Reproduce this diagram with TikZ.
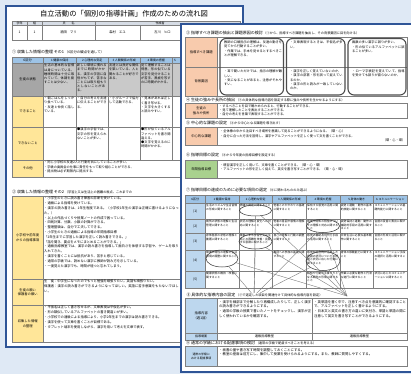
\documentclass[tikz,border=0pt]{standalone}
\usepackage{fontspec}
\setmainfont{Noto Sans CJK JP}
\XeTeXlinebreaklocale "ja"
\XeTeXlinebreakskip=0pt plus 1pt
\usetikzlibrary{positioning}
\usetikzlibrary{shapes.geometric}

\definecolor{bgblue}{HTML}{DFE9F5}
\definecolor{pageblue}{HTML}{2F5597}
\definecolor{hdblue}{HTML}{9DC3E6}
\definecolor{lblue}{HTML}{BDD7EE}
\definecolor{cellgray}{HTML}{C9C9C9}
\definecolor{labgray}{HTML}{A6A6A6}
\definecolor{labyel}{HTML}{FFE699}
\definecolor{laborange}{HTML}{F8CBAD}
\definecolor{labgreen}{HTML}{A9D18E}
\definecolor{linegray}{HTML}{7F7F7F}
\definecolor{hdrgray}{HTML}{D6DCE5}

\tikzset{
  sheet/.style={draw=pageblue, line width=2pt, fill=white},
  tline/.style={draw=linegray, line width=0.4pt},
  cellbox/.style={draw=linegray, line width=0.4pt, anchor=north west, inner sep=0pt},
  txt/.style={font=\fontsize{3.2}{4.1}\selectfont, align=left, anchor=north west, inner sep=1pt},
  lab/.style={font=\fontsize{3.3}{4.3}\selectfont, align=center, inner sep=0pt},
  sec/.style={font=\fontsize{4}{5}\selectfont, anchor=west, inner sep=0pt},
  probbox/.style={draw=black!70, line width=1.1pt, rounded corners=6pt},
  circ/.style={ellipse, draw=black!80, line width=0.5pt, inner sep=0pt},
  link/.style={draw=black!55, line width=0.35pt},
}

\begin{document}
\begin{tikzpicture}[x=1pt,y=-1pt]
\useasboundingbox (0,0) rectangle (411,374);
\fill[bgblue] (0,0) rectangle (411,374);

% left sheet
\draw[sheet] (6,6) rectangle (243,347);
\node[font=\fontsize{7.3}{8}\selectfont] (title) at (124,14) {自立活動の「個別の指導計画」作成のための流れ図};

% name table
\fill[hdrgray] (12,21) rectangle (240,25.5);
\draw[tline] (12,21) rectangle (240,40);
\draw[tline] (12,25.5) -- (240,25.5);
\foreach \x in {27,42,95} \draw[tline] (\x,21) -- (\x,40);
\foreach \x in {140,185} \draw[tline] (\x,25.5) -- (\x,40);
\node[lab, font=\fontsize{3}{3.5}\selectfont] (gk) at (19.5,23.3) {学年};
\node[lab, font=\fontsize{3}{3.5}\selectfont] (km) at (34.5,23.3) {組};
\node[lab, font=\fontsize{3}{3.5}\selectfont] (sm) at (68.5,23.3) {氏　　名};
\node[lab, font=\fontsize{3}{3.5}\selectfont] (sk) at (160,23.3) {作成者};
\node[lab] (gkv) at (19.5,32.7) {1};
\node[lab] (kmv) at (34.5,32.7) {1};
\node[lab] (smv) at (68.5,32.7) {酒田　マリ};
\node[lab] (sk1) at (117.5,32.7) {森村　エユ};
\node[lab] (sk2) at (162.5,32.7) {古川　ヒロ};

% section 1
\node[sec] (s1) at (12,52) {① 収集した情報の整理 その1\,{\fontsize{3.4}{4}\selectfont（6区分の観点を通して）}};
\node[cellbox, fill=hdblue, minimum width=31pt, minimum height=6pt, lab] (h0) at (12,57) {6区分};
\node[cellbox, fill=labgray, minimum width=31pt, minimum height=33pt, lab] (g0) at (12,63) {生徒の状態};
\node[cellbox, fill=labyel, minimum width=31pt, minimum height=31pt, lab] (c0) at (12,96) {できること};
\node[cellbox, fill=labyel, minimum width=31pt, minimum height=33pt, lab] (n0) at (12,127) {できないこと};
\node[cellbox, fill=labyel, minimum width=31pt, minimum height=17pt, lab] (o0) at (12,160) {その他};
\foreach \i/\xa/\w/\hd in {1/43/33/1 健康の保持, 2/76/32/2 心理的な安定, 3/108/32/3 人間関係の形成, 4/140/32/4 環境の把握, 5/172/32/{}} {
  \node[cellbox, fill=hdblue, minimum width=\w pt, minimum height=6pt, lab, font=\fontsize{3}{3.5}\selectfont] (h\i) at (\xa,57) {\hd};
  \node[cellbox, fill=cellgray, minimum width=\w pt, minimum height=33pt] (g\i) at (\xa,63) {};
  \node[cellbox, minimum width=\w pt, minimum height=31pt] (c\i) at (\xa,96) {};
  \node[cellbox, minimum width=\w pt, minimum height=33pt] (n\i) at (\xa,127) {};
}
\node[lab, font=\fontsize{3}{3.5}\selectfont, anchor=west] (h5t) at (174,60) {5};
\node[cellbox, minimum width=197pt, minimum height=17pt] (o1) at (43,160) {};
\node[txt, text width=31pt] (gt1) at (g1.north west) {生活の基本的な習慣は身についている。睡眠時間は十分に取れていて、体調を崩すことは少ない。};
\node[txt, text width=30pt] (gt2) at (g2.north west) {新しい環境に慣れるまでに時間がかかる。漢字の学習に自信がもてず、苦手なことには取り組もうとしないことがある。};
\node[txt, text width=30pt] (gt3) at (g3.north west) {友達とは良好な関係を築いている。人と関わることが好きである。};
\node[txt, text width=30pt] (gt4) at (g4.north west) {見て理解することは得意。形の似ている文字を見分けることが苦手。黒板を写すのに時間がかかる。};
\node[txt, text width=31pt] (ct1) at (c1.north west) {・朝ごはんをしっかり食べている。\\・友達と仲良く話している。};
\node[txt, text width=30pt] (ct2) at (c2.north west) {・自分の考えを友達に伝えることができる。};
\node[txt, text width=30pt] (ct3) at (c3.north west) {・小グループで協力して活動できる。};
\node[txt, text width=30pt] (ct4) at (c4.north west) {・見本があれば正しく書き写せる。\\・文字を大きくすると読みやすい。};
\node[txt, text width=30pt] (nt2) at (n2.north west) {●漢字の学習では、文字の形を覚えられないことが多い。};
\node[txt, text width=30pt] (nt4) at (n4.north west) {●形が似ているアルファベットを書き間違える。\\●文字を覚えるのに時間がかかる。};
\node[txt, text width=134pt] (ot) at (o1.north west) {・同じ小学校の友達2人と行動を共にしていることが多い。\\・学級の委員会の仕事に責任をもって取り組むことができる。\\・提出物は必ず期限内に提出する。};

% section 2
\node[sec] (s2) at (12,192) {② 収集した情報の整理 その2\,{\fontsize{3.2}{4}\selectfont（学習上又は生活上の困難の視点、これまでの}};
\node[cellbox, fill=labyel, minimum width=31pt, minimum height=83pt, lab] (r1) at (12,196) {小学校や前年度\\からの指導事項};
\node[cellbox, fill=labyel, minimum width=31pt, minimum height=26pt, lab] (r2) at (12,279) {生徒の願い\\保護者の願い};
\node[cellbox, fill=labyel, minimum width=31pt, minimum height=37pt, lab] (r3) at (12,305) {収集した情報\\の整理};
\node[cellbox, minimum width=197pt, minimum height=83pt] (q1) at (43,196) {};
\node[cellbox, minimum width=197pt, minimum height=26pt] (q2) at (43,279) {};
\node[cellbox, minimum width=197pt, minimum height=37pt] (q3) at (43,305) {};
\node[txt, text width=135pt, font=\fontsize{3.3}{4.8}\selectfont] (qt1) at (q1.north west) {・小学生のときに読み書き障害の診断を受けている。\\・通級による指導を受けている。\\・漢字の読み書きは、1年生程度である。（小学校1年生の漢字は正確に書けるようになった。）\\・以上の作品づくりや授業ノートの作成で困っている。\\・四則計算、分数、小数の計算ができる。\\・整理整頓は、自分で工夫してできる。\\・小学生のときの通級による指導の年間指導目標\\「2年生までに学習した漢字を正しく読み書きできる。」\\「話を聞き、要点をメモにまとめることができる。」\\・通級指導教室では、漢字の読み書きを指導して面白さを体感する学習や、ゲームを取り入れてきた。\\・漢字を書くことには抵抗があり、苦手と感じている。\\・通常の学級では、読めない漢字に教師が読み方を示している。\\・一度覚えた漢字でも、時間が経つと忘れてしまう。};
\node[txt, text width=135pt, font=\fontsize{3.3}{4.8}\selectfont] (qt2) at (q2.north west) {生　徒：中学生になったのでもっと勉強を頑張りたい。英語も頑張りたい。\\保護者：漢字の読み書きができるようになってほしい。英語に苦手意識をもたないでほしい。};
\node[txt, text width=135pt, font=\fontsize{3.3}{4.8}\selectfont] (qt3) at (q3.north west) {・平仮名は正しく書き写せるが、文章表現は平仮名が多い。\\・形の類似しているアルファベットの書き間違いが多い。\\・小学校での通級による指導により、小学2年生までの漢字は読み書きできる。\\・漢字を使って文章を書くことが目標である。\\・タブレット端末を使用しながら、漢字を用いて考えを文章で表す。};

% right sheet
\draw[sheet] (181,24) rectangle (414,372);

% section 3
\node[sec] (s3) at (186,32.5) {③ 指導すべき課題の抽出と課題原因の検討\,{\fontsize{3.2}{4}\selectfont（①から、指導すべき課題を抽出し、その背景要因に目を向ける）}};
\draw[tline] (185,37) rectangle (407,96);
\draw[tline] (185,67) -- (407,67);
\node[cellbox, fill=laborange, minimum width=32pt, minimum height=30pt, lab] (kd) at (185,37) {指導すべき課題};
\node[cellbox, fill=laborange, minimum width=32pt, minimum height=29pt, lab] (hy) at (185,67) {背景要因};
\draw[probbox] (220,38.5) rectangle (283.5,95);
\draw[probbox] (286.5,38.5) rectangle (345,95);
\draw[probbox] (348,38.5) rectangle (406,95);
\node[txt, text width=58pt] (k1) at (223,40) {教師の口頭指示の理解は、友達の動きを見てから行動することが多い。\\・作業では、手本を見せるとするべきことが理解できる。};
\node[txt, text width=53pt] (k2) at (289,40) {・文章表現するときは、平仮名が多い。};
\node[txt, text width=53pt] (k3) at (351,40) {画数の多い漢字に誤りが多い。\\・形の似ているアルファベットに誤ることが多い。};
\node[txt, text width=58pt] (y1) at (223,69) {・耳で聞いただけでは、指示の理解が難しい。\\・気になることがあると、注意がそれやすい。};
\node[txt, text width=53pt] (y2) at (289,69) {・漢字を正しく覚えていないのか。\\・漢字の部首・形を誤って捉えているのか。\\・漢字の形と読みが一致していないのか。};
\node[txt, text width=53pt] (y3) at (351,69) {・ローマ字表記を覚えていて、指導を受けても誤りが直らないのか。};

% section 4
\node[sec] (s4) at (186,100) {④ 生徒の強みや長所の抽出\,{\fontsize{3.2}{4}\selectfont（⑦の具体的な指導内容を設定する際に強みや長所を生かせるようにする）}};
\draw[tline] (185,103) rectangle (407,118);
\node[cellbox, fill=laborange, minimum width=32pt, minimum height=15pt, lab] (ts) at (185,103) {生徒の\\強みや長所};
\node[txt, text width=185pt] (tst) at (218,103.5) {・するべきことを目で確かめられると、行動することができる。\\・見て理解したことを表出することができる。\\・自分の考えを言葉で表現することができる。};

% section 5
\node[sec] (s5) at (186,123) {⑤ 中心的な課題の設定\,{\fontsize{3.2}{4}\selectfont（③から中心となる課題を導き出す）}};
\draw[tline] (185,127) rectangle (407,145);
\node[cellbox, fill=laborange, minimum width=32pt, minimum height=18pt, lab] (cs) at (185,127) {中心的な課題};
\node[txt, text width=185pt] (cst) at (219,129) {・全体像の中から注目すべき場所を意識して見ることができるようになる。（環・心）\\・自分に合った方法を習得し、漢字やアルファベットを正しく使って文を書くことができる。\\\hfill（環・心・環）};

% section 6
\node[sec] (s6) at (186,155) {⑥ 指導目標の設定\,{\fontsize{3.2}{4}\selectfont（⑤から今年度の指導目標を設定する）}};
\draw[tline] (185,160) rectangle (407,178);
\node[cellbox, fill=labgreen, minimum width=32pt, minimum height=18pt, lab] (nm) at (185,160) {年間指導目標};
\node[txt, text width=185pt] (nmt) at (219,162.5) {・既習漢字を正しく用いて、文章を書くことができる。（環・心・環）\\・アルファベットの形を正しく捉えて、英文を書き写すことができる。（環・心・環）};

% section 7
\node[sec] (s7) at (186,190) {⑦ 指導目標の達成のために必要な項目の選定\,{\fontsize{3.2}{4}\selectfont（⑥に関わるもののみ選ぶ）}};
\node[cellbox, fill=hdblue, minimum width=20pt, minimum height=8pt, lab, font=\fontsize{3}{3.5}\selectfont] (k0) at (185,195) {6区分};
\foreach \i/\hd in {1/1 健康の保持, 2/2 心理的な安定, 3/3 人間関係の形成, 4/4 環境の把握, 5/5 身体の動き, 6/6 コミュニケーション}
  \node[cellbox, fill=hdblue, minimum width=33.67pt, minimum height=8pt, lab, font=\fontsize{2.9}{3.5}\selectfont] (k\i) at ({205+(\i-1)*33.67},195) {\hd};
\foreach \r/\ya/\h in {1/203/16, 2/219/14, 3/233/17, 4/250/21, 5/271/17} {
  \node[cellbox, fill=lblue, minimum width=20pt, minimum height=\h pt, lab] (rw\r) at (185,\ya) {(\r)};
  \foreach \i in {1,...,6}
    \node[cellbox, minimum width=33.67pt, minimum height=\h pt] (m\r\i) at ({205+(\i-1)*33.67},\ya) {};
}
\foreach \r/\ya/\l in {1/203/{生活のリズムや生活習慣の形成に関すること/情緒の安定に関すること/他者とのかかわりの基礎に関すること/保有する感覚の活用に関すること/姿勢と運動・動作の基本的技能に関すること/コミュニケーションの基礎的能力に関すること},
    2/219/{病気の状態の理解と生活管理に関すること/状況の理解と変化への対応に関すること/他者の意図や感情の理解に関すること/感覚や認知の特性についての理解と対応に関すること/姿勢保持と運動・動作の補助的手段の活用に関すること/言語の受容と表出に関すること},
    3/233/{身体各部の状態の理解と養護に関すること/障害による学習上又は生活上の困難を改善・克服する意欲に関すること/自己の理解と行動の調整に関すること/感覚の補助及び代行手段の活用に関すること/日常生活に必要な基本動作に関すること/言語の形成と活用に関すること},
    4/250/{障害の特性の理解と生活環境の調整に関すること//集団への参加の基礎に関すること/感覚を総合的に活用した周囲の状況についての把握と状況に応じた行動に関すること/身体の移動能力に関すること/コミュニケーション手段の選択と活用に関すること},
    5/271/{健康状態の維持・改善に関すること///認知や行動の手掛かりとなる概念の形成に関すること/作業に必要な動作と円滑な遂行に関すること/状況に応じたコミュニケーションに関すること}} {
  \foreach \a/\b/\c/\d/\e/\f in \l {
    \node[txt, text width=31pt, font=\fontsize{2.8}{3.6}\selectfont] at (m\r1.north west) {\a};
    \node[txt, text width=31pt, font=\fontsize{2.8}{3.6}\selectfont] at (m\r2.north west) {\b};
    \node[txt, text width=31pt, font=\fontsize{2.8}{3.6}\selectfont] at (m\r3.north west) {\c};
    \node[txt, text width=31pt, font=\fontsize{2.8}{3.6}\selectfont] at (m\r4.north west) {\d};
    \node[txt, text width=31pt, font=\fontsize{2.8}{3.6}\selectfont] at (m\r5.north west) {\e};
    \node[txt, text width=31pt, font=\fontsize{2.8}{3.6}\selectfont] at (m\r6.north west) {\f};
  }
}
% selected items
\node[circ, minimum width=32pt, minimum height=11pt] (e1) at (255.5,210.5) {};
\node[circ, minimum width=33pt, minimum height=13pt] (e2) at (323,226) {};
\node[circ, minimum width=33pt, minimum height=15pt] (e3) at (255.5,241.5) {};
\node[circ, minimum width=32pt, minimum height=17pt] (e4) at (222,258.5) {};
\node[circ, minimum width=34pt, minimum height=19pt] (e5) at (323,261) {};
\coordinate (pa) at (254,296);
\coordinate (pb) at (347,296);
\foreach \e in {1,...,5} {
  \draw[link] (e\e) -- (pa);
  \draw[link] (e\e) -- (pb);
}

% section 8
\node[sec, fill=white, inner sep=0.3pt] (s8) at (186,295) {⑧ 具体的な指導内容の設定\,{\fontsize{3.2}{4}\selectfont（⑦で選定した項目を関連付けて具体的な指導内容を設定）}};
\draw[tline] (185,298) rectangle (407,340);
\draw[tline] (185,333) -- (407,333);
\draw[tline] (312,298) -- (312,340);
\node[cellbox, fill=lblue, minimum width=32pt, minimum height=35pt, lab] (sn) at (185,298) {指導内容\\（週1回）};
\node[cellbox, fill=lblue, minimum width=32pt, minimum height=7pt, lab, font=\fontsize{3}{3.5}\selectfont] (sb) at (185,333) {指導場面};
\node[txt, text width=92pt, font=\fontsize{3.4}{4.8}\selectfont] (sn1) at (218,299) {・漢字を細部まで分解したり再構成したりして、正しく漢字の読み書きができるようにする。\\・通常の学級の授業で書いたノートをチェックし、漢字が正しく使われているかを確認する。};
\node[txt, text width=92pt, font=\fontsize{3.4}{4.8}\selectfont] (sn2) at (313,299) {・英単語を書く中で、注意すべき点を意識的に確認することで、アルファベットを正しく書けるようにする。\\・日本文と英文の書き方の違いに気付き、単語と単語の間に注意して英文を書き写すことができるようにする。};
\node[lab, font=\fontsize{3.2}{3.8}\selectfont] (sb1) at (264.5,336.5) {通級指導教室};
\node[lab, font=\fontsize{3.2}{3.8}\selectfont] (sb2) at (359.5,336.5) {通級指導教室};

% section 9
\node[sec] (s9) at (186,342.5) {⑨ 通常の学級における配慮事項の検討\,{\fontsize{3.2}{4}\selectfont（通常の学級で配慮すべきことを考える）}};
\draw[tline] (185,346) rectangle (407,366);
\node[cellbox, fill=lblue, minimum width=32pt, minimum height=20pt, lab, font=\fontsize{2.9}{4}\selectfont] (hr) at (185,346) {通常の学級に\\おける配慮事項};
\node[txt, text width=185pt, font=\fontsize{3.4}{4.8}\selectfont] (hrt) at (218,347) {・板書の量や書き写す時間を調整しておくことにする。\\・教室の座席は前方にし、集中して授業を受けられるようにする。また、教師に質問しやすくする。};
\end{tikzpicture}
\end{document}
